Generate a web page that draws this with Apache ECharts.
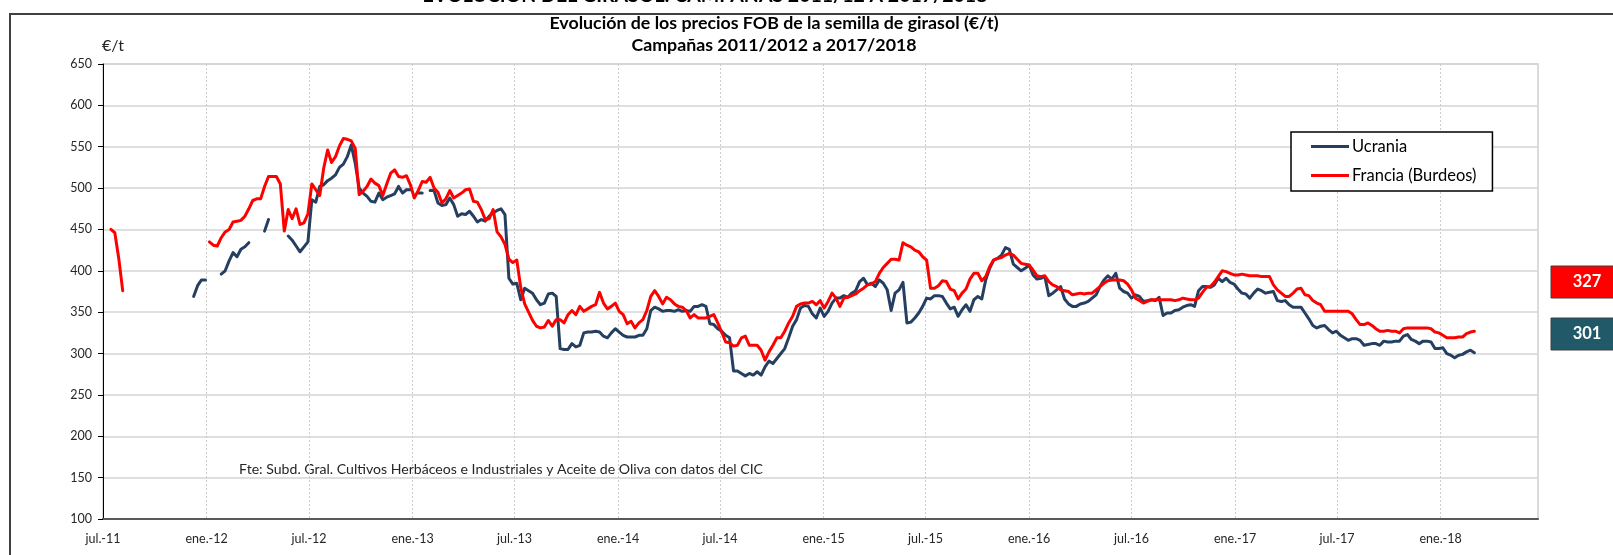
<!DOCTYPE html>
<html>
<head>
<meta charset="utf-8">
<script src="https://cdn.jsdelivr.net/npm/echarts@6/dist/echarts.min.js"></script>
<style>
html,body{margin:0;padding:0;background:#fff;}
#chart{width:1613px;height:555px;}
</style>
</head>
<body>
<div id="chart"></div>
<script>
// ---- data (weekly FOB prices, €/t) ----
const START_DATE = '2011-07-01';          // week 0 of the weekly series
const AXIS_MIN = '2011-07-01';
const AXIS_MAX = '2018-06-23';
const seriesNames = ['Ucrania', 'Francia (Burdeos)'];
const tickDates = ['2011-07-01','2012-01-01','2012-07-01','2013-01-01','2013-07-01','2014-01-01','2014-07-01',
  '2015-01-01','2015-07-01','2016-01-01','2016-07-01','2017-01-01','2017-07-01','2018-01-01'];
const tickLabels = ['jul.-11','ene.-12','jul.-12','ene.-13','jul.-13','ene.-14','jul.-14',
  'ene.-15','jul.-15','ene.-16','jul.-16','ene.-17','jul.-17','ene.-18'];

const ucrania = [
null,null,null,null,null,null,null,null,null,null,null,null,null,null,null,null,null,null,null,null,
null,null,null,369,382,389,389,null,null,null,396,400,412,422,417,426,429,434,null,null,
null,448,462,null,null,null,null,442,437,430,423,429,435,486,483,502,504,509,512,516,
525,529,538,552,530,500,494,490,484,483,494,486,489,491,493,502,494,498,498,null,
494,494,null,497,497,482,479,480,488,480,466,469,468,472,466,459,462,460,466,470,
473,475,468,391,384,385,365,379,376,373,365,359,361,372,373,369,306,305,305,312,
308,310,325,326,326,327,326,321,319,325,330,326,322,320,320,320,322,322,330,352,
356,354,351,352,352,351,353,351,352,351,357,357,359,357,336,335,330,327,322,319,
279,279,276,273,276,274,278,274,284,291,288,294,300,306,319,333,341,355,358,357,
348,343,355,345,351,361,367,367,370,368,373,376,387,391,383,385,381,389,385,377,
352,373,377,386,337,338,343,349,357,367,366,370,370,369,361,354,356,345,353,359,
351,365,369,366,389,403,413,415,419,428,426,408,404,400,403,407,395,390,391,393,
370,373,377,381,366,360,357,357,360,361,363,367,371,381,389,394,390,397,379,375,
373,367,371,369,363,364,365,364,368,346,349,349,352,353,356,358,359,357,376,381,
381,380,383,391,387,391,386,384,378,373,372,367,373,378,376,373,374,375,364,363,
364,359,356,356,356,349,342,334,331,333,334,329,325,327,322,319,316,318,318,316,
310,311,312,312,310,315,314,314,315,315,321,323,317,315,312,315,315,314,306,306,
307,300,298,295,298,299,302,304,301
];

const francia = [
null,null,450,446,415,376,null,null,null,null,null,null,null,null,null,null,null,null,null,null,
null,null,null,null,null,null,null,435,431,430,440,447,450,459,460,461,466,475,485,487,
487,502,514,514,514,505,448,474,463,475,456,458,469,505,498,491,524,546,531,538,
551,560,559,557,548,492,496,502,511,506,503,491,505,518,522,514,513,515,504,488,
497,508,507,513,500,495,482,487,497,488,491,494,498,499,484,483,474,462,463,474,
447,441,432,414,410,413,380,360,350,340,333,331,332,340,333,341,341,337,347,352,
347,357,351,354,357,359,374,361,354,357,361,351,347,336,339,331,337,341,352,369,
376,369,360,368,365,360,357,356,352,343,347,343,343,343,345,347,337,326,314,313,
309,310,319,321,310,310,310,304,292,302,310,319,319,327,337,345,357,360,361,361,
363,359,364,355,363,373,367,357,367,368,370,372,376,379,383,384,387,397,404,409,
414,414,413,434,431,429,425,423,417,413,379,379,382,388,387,378,376,366,373,378,
390,397,397,388,393,405,413,415,416,419,421,419,414,409,408,407,401,394,393,394,
387,383,381,377,376,375,371,372,373,372,373,373,377,381,385,388,389,389,389,388,
384,377,367,364,361,363,365,365,365,365,365,365,364,365,367,366,365,365,367,374,
380,381,386,393,400,399,397,395,395,396,395,394,394,394,393,393,393,383,377,373,
369,369,373,378,379,371,370,364,361,359,351,351,351,351,351,351,351,348,341,335,
335,337,334,330,327,327,328,327,327,325,330,331,331,331,331,331,331,330,326,325,
322,319,319,319,320,320,324,326,327
];

// ---- build ----
const WEEK = 7 * 24 * 3600 * 1000;
const t0 = Date.parse(START_DATE);
const toData = arr => arr.map((v, i) => [t0 + i * WEEK, v]);
const tickTs = tickDates.map(d => Date.parse(d));
const lastVal = arr => { for (let i = arr.length - 1; i >= 0; i--) if (arr[i] != null) return arr[i]; return null; };

const FONT = 'Lato, "Open Sans", sans-serif';
const LEGEND_LINE = 'path://M0,0 M38,14 M0,5.5 L38,5.5 L38,8.5 L0,8.5 Z';
const chart = echarts.init(document.getElementById('chart'), null, {renderer: 'canvas'});

const option = {
  animation: false,
  backgroundColor: '#ffffff',
  textStyle: {fontFamily: FONT},
  grid: {left: 103, right: 75, top: 64, bottom: 36, show: true, borderColor: '#d0d0d0', borderWidth: 1.5, backgroundColor: 'transparent'},
  legend: {
    data: seriesNames.map(n => ({name: n, icon: LEGEND_LINE})),
    orient: 'vertical',
    left: 1291, top: 132,
    itemWidth: 38, itemHeight: 14, itemGap: 12,
    padding: [6, 16, 7, 20],
    borderColor: '#000', borderWidth: 1.5, backgroundColor: '#fff',
    textStyle: {fontSize: 16.5, color: '#000', fontFamily: FONT, padding: [0, 0, 0, -2]}
  },
  xAxis: {
    type: 'value',
    min: Date.parse(AXIS_MIN),
    max: Date.parse(AXIS_MAX),
    axisLine: {show: true, lineStyle: {color: '#595959', width: 2}},
    axisTick: {show: false, customValues: tickTs},
    axisLabel: {
      customValues: tickTs,
      color: '#262626', fontSize: 12.5, margin: 13, fontFamily: FONT,
      formatter: function (v) {
        let best = 0, bd = Infinity;
        tickTs.forEach((t, i) => { const d = Math.abs(t - v); if (d < bd) { bd = d; best = i; } });
        return tickLabels[best];
      }
    },
    splitLine: {show: true, lineStyle: {color: '#cccccc', width: 1, type: [2, 2]}}
  },
  yAxis: {
    type: 'value', min: 100, max: 650, interval: 50,
    axisLine: {show: true, lineStyle: {color: '#000', width: 1}},
    axisTick: {show: true, length: 5, lineStyle: {color: '#000'}},
    axisLabel: {color: '#262626', fontSize: 12.5, margin: 11, fontFamily: FONT},
    splitLine: {show: true, lineStyle: {color: '#d4d4d4', width: 1.5}}
  },
  series: [
    {
      name: seriesNames[0], type: 'line', data: toData(ucrania), symbol: 'none', connectNulls: false,
      color: '#243f60',
      lineStyle: {color: '#243f60', width: 3, join: 'round', cap: 'round'}, z: 3
    },
    {
      name: seriesNames[1], type: 'line', data: toData(francia), symbol: 'none', connectNulls: false,
      color: '#ff0000',
      lineStyle: {color: '#ff0000', width: 3, join: 'round', cap: 'round'}, z: 4
    }
  ],
  graphic: [
    {type: 'polyline', shape: {points: [[10, 556], [10, 14], [1614, 14]]}, style: {stroke: '#404040', lineWidth: 2, fill: null}, silent: true},
    {type: 'text', x: 705, y: -4, style: {text: 'EVOLUCIÓN DEL GIRASOL: CAMPAÑAS 2011/12 A 2017/2018', font: 'bold 19.5px ' + FONT, fill: '#000', align: 'center', verticalAlign: 'middle'}},
    {type: 'text', x: 774, y: 23, style: {text: 'Evolución de los precios FOB de la semilla de girasol (€/t)', font: 'bold 17.8px ' + FONT, fill: '#000', align: 'center', verticalAlign: 'middle'}},
    {type: 'text', x: 774, y: 45.5, style: {text: 'Campañas 2011/2012 a 2017/2018', font: 'bold 17.8px ' + FONT, fill: '#000', align: 'center', verticalAlign: 'middle'}},
    {type: 'text', x: 102, y: 46, style: {text: '€/t', font: '16px ' + FONT, fill: '#262626', align: 'left', verticalAlign: 'middle'}},
    {type: 'text', x: 239, y: 469, style: {text: 'Fte: Subd. Gral. Cultivos Herbáceos e Industriales y Aceite de Oliva con datos del CIC', font: '14.1px ' + FONT, fill: '#262626', align: 'left', verticalAlign: 'middle'}},
    {type: 'rect', shape: {x: 1551, y: 266, width: 70, height: 32}, style: {fill: '#ff0000', stroke: '#404040', lineWidth: 1}},
    {type: 'text', x: 1587, y: 282, style: {text: String(lastVal(francia)), font: 'bold 16.5px ' + FONT, fill: '#fff', align: 'center', verticalAlign: 'middle'}},
    {type: 'rect', shape: {x: 1551, y: 318, width: 70, height: 32}, style: {fill: '#215968', stroke: '#404040', lineWidth: 1}},
    {type: 'text', x: 1587, y: 334, style: {text: String(lastVal(ucrania)), font: 'bold 16.5px ' + FONT, fill: '#fff', align: 'center', verticalAlign: 'middle'}}
  ]
};
chart.setOption(option);
</script>
</body>
</html>
